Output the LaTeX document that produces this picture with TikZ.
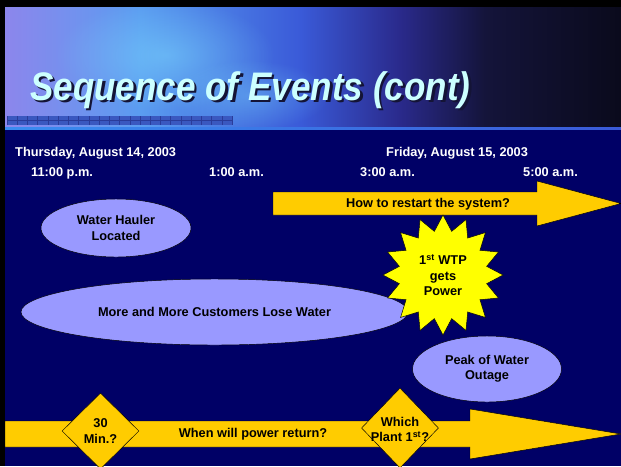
\documentclass[tikz,border=0pt]{standalone}
\usepackage{fontspec}
\setmainfont{Liberation Sans}
\usetikzlibrary{shapes.geometric, fadings}
\definecolor{SlideNavy}{HTML}{000066}
\definecolor{ArrowGold}{HTML}{FFCC00}
\definecolor{EventLilac}{HTML}{9999FF}
\definecolor{StarYellow}{HTML}{FFFF00}
\definecolor{TitleCyan}{HTML}{CCFFFF}
\definecolor{TitleShadow}{HTML}{141436}
\definecolor{BandA}{HTML}{8C86EC}
\definecolor{BandB}{HTML}{5A9CF0}
\definecolor{BandC}{HTML}{3A5AD8}
\definecolor{BandD}{HTML}{2A2A8C}
\definecolor{BandE}{HTML}{14143A}
\definecolor{BandF}{HTML}{0A0A1C}
\definecolor{BandGlow}{HTML}{7FE0FF}
\definecolor{BarBlue}{HTML}{3A58C0}
\definecolor{BarLine}{HTML}{2A3C9A}
\definecolor{EdgeBlue}{HTML}{3A8CF0}
\pgfdeclarehorizontalshading{titleband}{100bp}{color(0bp)=(BandA); color(25bp)=(BandA); color(36bp)=(BandB); color(49bp)=(BandC); color(57bp)=(BandD); color(64bp)=(BandE); color(75bp)=(BandF); color(100bp)=(BandF)}
\tikzfading[name=glowfade, inner color=transparent!0, outer color=transparent!100]
\newcommand{\slidefont}{\fontsize{10.9}{13}\selectfont\bfseries}

\begin{document}
\begin{tikzpicture}[
        x=0.03cm, y=-0.03cm,
        titletext/.style={anchor=base west, inner sep=0, text=TitleCyan,
            font=\fontsize{34}{38}\selectfont\bfseries\itshape},
        datetext/.style={anchor=base west, inner sep=0, text=white, font=\slidefont},
        event/.style={ellipse, draw=black, fill=EventLilac, inner sep=0, align=center, font=\slidefont},
        burst/.style={star, star points=16, star point ratio=1.35, minimum size=120*0.03cm,
            draw=black, fill=StarYellow, inner sep=0, align=center, font=\slidefont},
        gate/.style={diamond, draw=black, fill=ArrowGold, inner sep=0},
        bigarrow/.style={draw=black, fill=ArrowGold},
        arrowtext/.style={inner sep=0, align=center, font=\slidefont}
    ]
    \useasboundingbox (0,0) rectangle (621,466);
    % Slide background and title band
    \fill[SlideNavy] (0,0) rectangle (621,466);
    \shade[shading=titleband] (5,7) rectangle (621,127);
    \fill[BandGlow, opacity=0.45, path fading=glowfade] (165,55) ellipse (110 and 55);
    \fill[BandGlow, opacity=0.35, path fading=glowfade] (250,95) ellipse (80 and 35);
    \shade[left color=EdgeBlue, right color=BandC] (5,127) rectangle (621,129);
    \fill[BarBlue] (7,116) rectangle (232,125);
    \foreach \i in {0,...,22} {
        \draw[BarLine, line width=0.4pt] (7+\i*10.23,116) -- ++(0,9);
    }
    \draw[BarLine, line width=0.3pt] (7,120.5) -- (232,120.5);

    % Title
    \node[titletext, text=TitleShadow] at (32.5,102.5) {\scalebox{0.88}[1]{Sequence of Events (cont)}};
    \node[titletext] (title) at (30,100) {\scalebox{0.88}[1]{Sequence of Events (cont)}};

    % Dates and times
    \node[datetext] (thu) at (15,156) {Thursday, August 14, 2003};
    \node[datetext] (fri) at (386,156) {Friday, August 15, 2003};
    \node[datetext] (t11pm) at (31,176) {11:00 p.m.};
    \node[datetext] (t1am) at (209,176) {1:00 a.m.};
    \node[datetext] (t3am) at (360,176) {3:00 a.m.};
    \node[datetext] (t5am) at (523,176) {5:00 a.m.};

    % Restart arrow
    \draw[bigarrow] (273,192) -- (537,192) -- (537,181) -- (621,203.5) -- (537,226) -- (537,215) -- (273,215) -- cycle;
    \node[arrowtext] (restart) at (428,204) {How to restart the system?};

    % Events
    \node[event, minimum width=150*0.03cm, minimum height=58*0.03cm] (hauler) at (116,228) {Water Hauler\\Located};
    \node[event, minimum width=387*0.03cm, minimum height=66*0.03cm] (customers) at (214.5,312) {More and More Customers Lose Water};
    \node[burst] (firstwtp) at (443,275) {1\textsuperscript{st} WTP\\gets\\Power};
    \node[event, minimum width=149*0.03cm, minimum height=66*0.03cm] (peak) at (487,369) {Peak of Water\\Outage};

    % Power arrow
    \draw[bigarrow] (5,421) -- (470,421) -- (470,409) -- (621,434) -- (470,459) -- (470,447) -- (5,447) -- cycle;
    \node[arrowtext] (powerback) at (253,434) {When will power return?};
    \node[gate, minimum width=77*0.03cm, minimum height=76*0.03cm] (halfhour) at (100.5,431) {};
    \node[arrowtext] at (halfhour) {30\\Min.?};
    \node[gate, minimum width=77*0.03cm, minimum height=80*0.03cm] (whichplant) at (400,428) {};
    \node[arrowtext] at (400,429.5) {Which\\Plant 1\textsuperscript{st}?};

    % Frame
    \fill[black] (0,0) rectangle (621,7);
    \fill[black] (0,0) rectangle (5,466);
\end{tikzpicture}
\end{document}
